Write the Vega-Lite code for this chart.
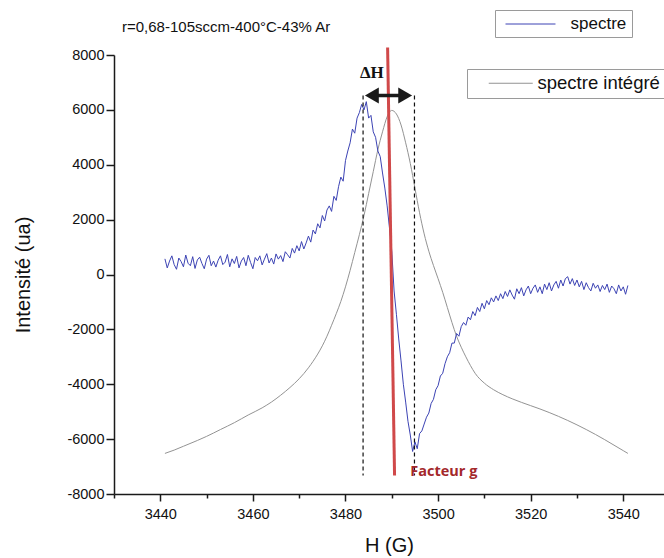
{
  "$schema": "https://vega.github.io/schema/vega-lite/v6.json",
  "autosize": {"type": "none"},
  "padding": {"left": 114, "top": 55, "right": 0, "bottom": 64},
  "width": 550,
  "height": 439,
  "background": "white",
  "title": {"text": "r=0,68-105sccm-400°C-43% Ar", "anchor": "start", "frame": "group", "font": "Liberation Sans", "fontSize": 15, "fontWeight": "normal", "color": "#111", "dx": 8, "offset": -25},
  "datasets": {
    "spectre": [
      {"h":3441,"i":570},{"h":3441.5,"i":240},{"h":3442,"i":490},{"h":3442.5,"i":680},{"h":3443,"i":360},{"h":3443.5,"i":190},{"h":3444,"i":600},{"h":3444.5,"i":470},{"h":3445,"i":280},{"h":3445.5,"i":710},
      {"h":3446,"i":410},{"h":3446.5,"i":320},{"h":3447,"i":650},{"h":3447.5,"i":220},{"h":3448,"i":530},{"h":3448.5,"i":630},{"h":3449,"i":400},{"h":3449.5,"i":210},{"h":3450,"i":560},{"h":3450.5,"i":700},
      {"h":3451,"i":320},{"h":3451.5,"i":490},{"h":3452,"i":270},{"h":3452.5,"i":520},{"h":3453,"i":680},{"h":3453.5,"i":360},{"h":3454,"i":450},{"h":3454.5,"i":730},{"h":3455,"i":280},{"h":3455.5,"i":570},
      {"h":3456,"i":400},{"h":3456.5,"i":660},{"h":3457,"i":240},{"h":3457.5,"i":490},{"h":3458,"i":620},{"h":3458.5,"i":320},{"h":3459,"i":700},{"h":3459.5,"i":440},{"h":3460,"i":210},{"h":3460.5,"i":620},
      {"h":3461,"i":500},{"h":3461.5,"i":680},{"h":3462,"i":350},{"h":3462.5,"i":560},{"h":3463,"i":760},{"h":3463.5,"i":420},{"h":3464,"i":600},{"h":3464.5,"i":380},{"h":3465,"i":750},{"h":3465.5,"i":560},
      {"h":3466,"i":690},{"h":3466.5,"i":470},{"h":3467,"i":830},{"h":3467.5,"i":720},{"h":3468,"i":600},{"h":3468.5,"i":950},{"h":3469,"i":780},{"h":3469.5,"i":1050},{"h":3470,"i":860},{"h":3470.5,"i":1200},
      {"h":3471,"i":930},{"h":3471.5,"i":1150},{"h":3472,"i":1400},{"h":3472.5,"i":1180},{"h":3473,"i":1620},{"h":3473.5,"i":1480},{"h":3474,"i":1850},{"h":3474.5,"i":1700},{"h":3475,"i":2150},{"h":3475.5,"i":1950},
      {"h":3476,"i":2350},{"h":3476.5,"i":2500},{"h":3477,"i":2300},{"h":3477.5,"i":2850},{"h":3478,"i":2700},{"h":3478.5,"i":3200},{"h":3479,"i":3550},{"h":3479.5,"i":3400},{"h":3480,"i":4150},{"h":3480.5,"i":4500},
      {"h":3481,"i":4800},{"h":3481.5,"i":5300},{"h":3482,"i":5150},{"h":3482.5,"i":5700},{"h":3483,"i":5900},{"h":3483.5,"i":6200},{"h":3484,"i":6000},{"h":3484.5,"i":6300},{"h":3485,"i":5700},{"h":3485.5,"i":5800},
      {"h":3486,"i":5200},{"h":3486.5,"i":5000},{"h":3487,"i":4500},{"h":3487.5,"i":4300},{"h":3488,"i":3700},{"h":3488.5,"i":3150},{"h":3489,"i":2500},{"h":3489.5,"i":1700},{"h":3490,"i":850},{"h":3490.5,"i":-600},
      {"h":3491,"i":-1450},{"h":3491.5,"i":-2350},{"h":3492,"i":-3150},{"h":3492.5,"i":-4000},{"h":3493,"i":-4650},{"h":3493.5,"i":-5350},{"h":3494,"i":-5850},{"h":3494.5,"i":-6450},{"h":3495,"i":-6100},{"h":3495.5,"i":-6350},
      {"h":3496,"i":-5800},{"h":3496.5,"i":-5700},{"h":3497,"i":-5450},{"h":3497.5,"i":-5200},{"h":3498,"i":-5050},{"h":3498.5,"i":-4700},{"h":3499,"i":-4550},{"h":3499.5,"i":-4200},{"h":3500,"i":-4050},{"h":3500.5,"i":-3700},
      {"h":3501,"i":-3600},{"h":3501.5,"i":-3250},{"h":3502,"i":-3000},{"h":3502.5,"i":-2850},{"h":3503,"i":-2500},{"h":3503.5,"i":-2500},{"h":3504,"i":-2150},{"h":3504.5,"i":-2250},{"h":3505,"i":-1900},{"h":3505.5,"i":-1750},
      {"h":3506,"i":-1850},{"h":3506.5,"i":-1550},{"h":3507,"i":-1650},{"h":3507.5,"i":-1350},{"h":3508,"i":-1500},{"h":3508.5,"i":-1200},{"h":3509,"i":-1350},{"h":3509.5,"i":-1050},{"h":3510,"i":-1250},{"h":3510.5,"i":-950},
      {"h":3511,"i":-1100},{"h":3511.5,"i":-850},{"h":3512,"i":-1000},{"h":3512.5,"i":-780},{"h":3513,"i":-950},{"h":3513.5,"i":-700},{"h":3514,"i":-880},{"h":3514.5,"i":-620},{"h":3515,"i":-800},{"h":3515.5,"i":-560},
      {"h":3516,"i":-750},{"h":3516.5,"i":-900},{"h":3517,"i":-520},{"h":3517.5,"i":-700},{"h":3518,"i":-480},{"h":3518.5,"i":-780},{"h":3519,"i":-560},{"h":3519.5,"i":-420},{"h":3520,"i":-700},{"h":3520.5,"i":-500},
      {"h":3521,"i":-380},{"h":3521.5,"i":-650},{"h":3522,"i":-450},{"h":3522.5,"i":-700},{"h":3523,"i":-350},{"h":3523.5,"i":-550},{"h":3524,"i":-300},{"h":3524.5,"i":-600},{"h":3525,"i":-380},{"h":3525.5,"i":-250},
      {"h":3526,"i":-500},{"h":3526.5,"i":-200},{"h":3527,"i":-420},{"h":3527.5,"i":-150},{"h":3528,"i":-80},{"h":3528.5,"i":-350},{"h":3529,"i":-150},{"h":3529.5,"i":-400},{"h":3530,"i":-200},{"h":3530.5,"i":-450},
      {"h":3531,"i":-250},{"h":3531.5,"i":-550},{"h":3532,"i":-300},{"h":3532.5,"i":-480},{"h":3533,"i":-600},{"h":3533.5,"i":-320},{"h":3534,"i":-500},{"h":3534.5,"i":-380},{"h":3535,"i":-620},{"h":3535.5,"i":-400},
      {"h":3536,"i":-550},{"h":3536.5,"i":-350},{"h":3537,"i":-650},{"h":3537.5,"i":-420},{"h":3538,"i":-520},{"h":3538.5,"i":-700},{"h":3539,"i":-380},{"h":3539.5,"i":-600},{"h":3540,"i":-450},{"h":3540.5,"i":-720},
      {"h":3541,"i":-400}
    ],
    "integre": [
      {"h":3441,"i":-6520},{"h":3443,"i":-6400},{"h":3445,"i":-6260},{"h":3448,"i":-6050},{"h":3450,"i":-5900},{"h":3453,"i":-5650},{"h":3456,"i":-5400},{"h":3459,"i":-5120},{"h":3462,"i":-4860},{"h":3464,"i":-4650},
      {"h":3466,"i":-4400},{"h":3468,"i":-4120},{"h":3470,"i":-3800},{"h":3472,"i":-3400},{"h":3474,"i":-2900},{"h":3475,"i":-2600},{"h":3476,"i":-2250},{"h":3477,"i":-1850},{"h":3478,"i":-1430},{"h":3479,"i":-980},
      {"h":3480,"i":-450},{"h":3481,"i":150},{"h":3482,"i":800},{"h":3483,"i":1450},{"h":3484,"i":2150},{"h":3485,"i":2950},{"h":3486,"i":3750},{"h":3487,"i":4550},{"h":3488,"i":5200},{"h":3489,"i":5750},
      {"h":3490,"i":5980},{"h":3491,"i":5850},{"h":3492,"i":5450},{"h":3493,"i":4800},{"h":3494,"i":4050},{"h":3495,"i":3150},{"h":3496,"i":2250},{"h":3497,"i":1480},{"h":3498,"i":850},{"h":3499,"i":330},
      {"h":3500,"i":-150},{"h":3501,"i":-650},{"h":3502,"i":-1200},{"h":3503,"i":-1750},{"h":3504,"i":-2250},{"h":3505,"i":-2650},{"h":3506,"i":-3000},{"h":3507,"i":-3320},{"h":3508,"i":-3600},{"h":3510,"i":-3960},
      {"h":3512,"i":-4200},{"h":3514,"i":-4380},{"h":3516,"i":-4530},{"h":3518,"i":-4660},{"h":3520,"i":-4780},{"h":3522,"i":-4900},{"h":3524,"i":-5030},{"h":3526,"i":-5170},{"h":3528,"i":-5320},{"h":3530,"i":-5480},
      {"h":3532,"i":-5650},{"h":3534,"i":-5830},{"h":3536,"i":-6020},{"h":3538,"i":-6220},{"h":3540,"i":-6420},{"h":3541,"i":-6520}
    ]
  },
  "config": {
    "view": {"stroke": null},
    "axis": {
      "grid": false,
      "domainColor": "#1a1a1a",
      "domainWidth": 1.5,
      "tickColor": "#1a1a1a",
      "tickWidth": 1.5,
      "labelFont": "Liberation Sans",
      "labelFontSize": 14.5,
      "labelColor": "#111",
      "titleFont": "Liberation Sans",
      "titleFontSize": 20,
      "titleFontWeight": "normal",
      "titleColor": "#111"
    },
    "legend": {
      "labelFont": "Liberation Sans",
      "labelFontSize": 17,
      "labelColor": "#111",
      "strokeColor": "#9a9a9a",
      "padding": 5,
      "symbolSize": 289,
      "symbolStrokeWidth": 1
    }
  },
  "layer": [
    {
      "data": {"name": "integre"},
      "mark": {"type": "line", "strokeWidth": 1, "interpolate": "monotone"},
      "encoding": {
        "x": {"field": "h", "type": "quantitative", "scale": {"domain": [3430, 3548.8], "nice": false, "zero": false},
          "axis": {"title": "H (G)", "values": [3430,3440,3450,3460,3470,3480,3490,3500,3510,3520,3530,3540], "format": "d",
            "labelExpr": "datum.value % 20 === 0 ? datum.label : ''",
            "tickSize": {"condition": {"test": "datum.value % 20 === 0", "value": 7}, "value": 4},
            "labelPadding": 6, "titlePadding": 15}},
        "y": {"field": "i", "type": "quantitative", "scale": {"domain": [-8000, 8000], "nice": false, "zero": false},
          "axis": {"title": "Intensité (ua)", "values": [-8000,-7000,-6000,-5000,-4000,-3000,-2000,-1000,0,1000,2000,3000,4000,5000,6000,7000,8000],
            "labelExpr": "datum.value % 2000 === 0 ? '' + datum.value : ''",
            "tickSize": {"condition": {"test": "datum.value % 2000 === 0", "value": 8}, "value": 4},
            "labelPadding": 2, "titlePadding": 33}},
        "color": {"datum": "spectre intégré", "type": "nominal", "scale": {"range": ["#939393"]},
          "legend": {"title": null, "orient": "none", "legendX": 353, "legendY": 14, "labelFontSize": 18.5,
            "symbolType": "M-2.59,0L2.59,0", "symbolOffset": 29.5, "labelOffset": 17.5}}
      }
    },
    {
      "data": {"name": "spectre"},
      "mark": {"type": "line", "strokeWidth": 1},
      "encoding": {
        "x": {"field": "h", "type": "quantitative"},
        "y": {"field": "i", "type": "quantitative"},
        "color": {"datum": "spectre", "type": "nominal", "scale": {"range": ["#3c43b4"]},
          "legend": {"title": null, "orient": "none", "legendX": 381, "legendY": -45,
            "symbolType": "M-2.94,0L2.94,0", "symbolOffset": 21.5, "labelOffset": 31}}
      }
    },
    {
      "data": {"values": [{"h": 3483.8, "i": 6520, "i2": -7325}, {"h": 3494.9, "i": 6520, "i2": -7325}]},
      "mark": {"type": "rule", "color": "#111", "strokeWidth": 1.2, "strokeDash": [4, 3]},
      "encoding": {
        "x": {"field": "h", "type": "quantitative"},
        "y": {"field": "i", "type": "quantitative"},
        "y2": {"field": "i2"}
      }
    },
    {
      "data": {"values": [{"h": 3489.1, "i": 8272, "h2": 3490.6, "i2": -7325}]},
      "mark": {"type": "rule", "color": "#d0494a", "strokeWidth": 3},
      "encoding": {
        "x": {"field": "h", "type": "quantitative"},
        "y": {"field": "i", "type": "quantitative"},
        "x2": {"field": "h2"},
        "y2": {"field": "i2"}
      }
    },
    {
      "data": {"values": [{"h": 3485.5, "h2": 3493.1, "i": 6520}]},
      "mark": {"type": "rule", "color": "#1a1a1a", "strokeWidth": 3.5},
      "encoding": {
        "x": {"field": "h", "type": "quantitative"},
        "x2": {"field": "h2"},
        "y": {"field": "i", "type": "quantitative"}
      }
    },
    {
      "data": {"values": [{"h": 3485.7, "i": 6520, "s": "triangle-left"}, {"h": 3492.9, "i": 6520, "s": "triangle-right"}]},
      "mark": {"type": "point", "filled": true, "color": "#1a1a1a", "size": 256, "opacity": 1},
      "encoding": {
        "x": {"field": "h", "type": "quantitative"},
        "y": {"field": "i", "type": "quantitative"},
        "shape": {"field": "s", "type": "nominal", "scale": null, "legend": null}
      }
    },
    {
      "data": {"values": [{"h": 3485.7, "i": 7360, "t": "ΔH"}]},
      "mark": {"type": "text", "font": "Liberation Serif", "fontSize": 17, "fontWeight": "bold", "color": "#111", "align": "center", "baseline": "middle"},
      "encoding": {
        "x": {"field": "h", "type": "quantitative"},
        "y": {"field": "i", "type": "quantitative"},
        "text": {"field": "t"}
      }
    },
    {
      "data": {"values": [{"h": 3494.0, "i": -7215, "t": "Facteur g"}]},
      "mark": {"type": "text", "font": "Open Sans", "fontSize": 14.5, "fontWeight": "bold", "color": "#a3282b", "align": "left", "baseline": "middle"},
      "encoding": {
        "x": {"field": "h", "type": "quantitative"},
        "y": {"field": "i", "type": "quantitative"},
        "text": {"field": "t"}
      }
    }
  ],
  "resolve": {"scale": {"color": "independent", "shape": "independent"}}
}
